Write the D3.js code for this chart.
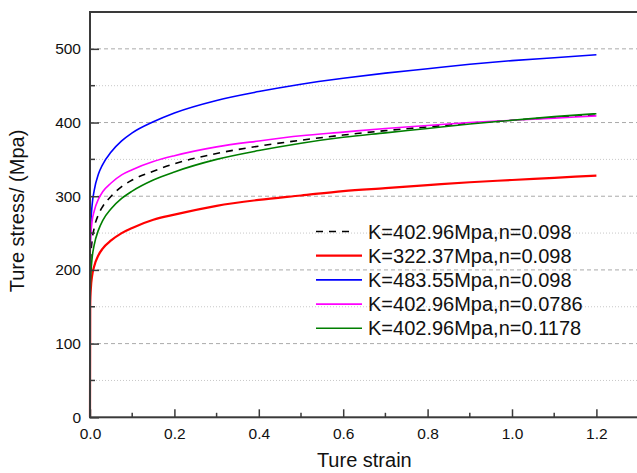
<!DOCTYPE html>
<html>
<head>
<meta charset="utf-8">
<script src="https://cdn.jsdelivr.net/npm/d3@7/dist/d3.min.js"></script>
<style>
    body { margin: 0; background: #fff; }
    svg { display: block; font-family: Arial, "Liberation Sans", sans-serif; }
</style>
</head>
<body>
<div id="chart"></div>
<script>
// strain points
const strain = [0, 0.0005, 0.001, 0.002, 0.005, 0.01, 0.02, 0.03, 0.05, 0.075, 0.1, 0.15,
    0.2, 0.3, 0.4, 0.5, 0.6, 0.7, 0.8, 0.9, 1.0, 1.1, 1.2];

// stress values of each curve, Mpa
const stressBase = [0, 191, 205, 219, 240, 257, 275, 286, 300, 313, 322, 334, 344, 358, 368, 376, 383, 389, 394, 399, 403, 407, 410];
const stressLowK = [0, 153, 164, 175, 192, 205, 220, 229, 240, 250, 257, 268, 275, 287, 295, 301, 307, 311, 315, 319, 322, 325, 328];
const stressHighK = [0, 230, 246, 263, 288, 308, 330, 343, 360, 375, 386, 401, 413, 430, 442, 452, 460, 467, 473, 479, 484, 488, 492];
const stressLowN = [0, 222, 234, 247, 266, 280, 296, 306, 318, 329, 336, 347, 355, 367, 375, 382, 387, 392, 396, 400, 403, 406, 409];
const stressHighN = [0, 164, 179, 194, 216, 234, 254, 267, 283, 297, 307, 322, 333, 350, 362, 372, 380, 386, 392, 398, 403, 408, 412];

const legendLabels = ['K=402.96Mpa,n=0.098', 'K=322.37Mpa,n=0.098', 'K=483.55Mpa,n=0.098',
    'K=402.96Mpa,n=0.0786', 'K=402.96Mpa,n=0.1178'];

const xTicks = [0, 0.2, 0.4, 0.6, 0.8, 1.0, 1.2];
const xMinorTicks = [0.1, 0.3, 0.5, 0.7, 0.9, 1.1];
const yTicks = [0, 100, 200, 300, 400, 500];
const yMinorTicks = [50, 150, 250, 350, 450];

const WIDTH = 637;
const HEIGHT = 473;
const LEFT = 90;
const TOP = 12;
const RIGHT = 638.6;   // right edge of the frame is just outside the picture
const BOTTOM = 417.3;
const AXIS_COLOR = '#3a3a3a';

const series = [
    { values: stressBase, color: '#000', width: 1.6, dash: '7,6' },
    { values: stressLowK, color: '#ff0000', width: 2.2, dash: null },
    { values: stressHighK, color: '#0000ff', width: 1.6, dash: null },
    { values: stressLowN, color: '#ff00ff', width: 1.6, dash: null },
    { values: stressHighN, color: '#007f00', width: 1.6, dash: null }
];

const svg = d3.select('#chart').append('svg')
    .attr('width', WIDTH)
    .attr('height', HEIGHT);

const x = d3.scaleLinear().domain([0, 1.3]).range([LEFT, RIGHT]);
const y = d3.scaleLinear().domain([0, 550]).range([BOTTOM, TOP]);

// grid
svg.append('g').selectAll('line').data(yMinorTicks).join('line')
    .attr('x1', LEFT).attr('x2', RIGHT)
    .attr('y1', d => y(d)).attr('y2', d => y(d))
    .attr('stroke', '#c8c8c8').attr('stroke-width', 1).attr('stroke-dasharray', '1,2');
svg.append('g').selectAll('line').data(yTicks.filter(d => d > 0)).join('line')
    .attr('x1', LEFT).attr('x2', RIGHT)
    .attr('y1', d => y(d)).attr('y2', d => y(d))
    .attr('stroke', '#aaaaaa').attr('stroke-width', 1).attr('stroke-dasharray', '4,3');

// curves
const line = d3.line()
    .x((d, i) => x(strain[i]))
    .y(d => y(d))
    .curve(d3.curveMonotoneX);

series.forEach(s => {
    svg.append('path')
        .attr('d', line(s.values))
        .attr('fill', 'none')
        .attr('stroke', s.color)
        .attr('stroke-width', s.width)
        .attr('stroke-dasharray', s.dash);
});

// axes, ticks point inward
const xAxis = d3.axisBottom(x).tickValues(xTicks).tickFormat(d3.format('.1f')).tickSizeInner(-8).tickSizeOuter(0);
const yAxis = d3.axisLeft(y).tickValues(yTicks).tickFormat(d3.format('d')).tickSizeInner(-9).tickSizeOuter(0);

const gx = svg.append('g').attr('transform', `translate(0,${BOTTOM})`).call(xAxis);
const gy = svg.append('g').attr('transform', `translate(${LEFT},0)`).call(yAxis);

[gx, gy].forEach(g => {
    g.select('.domain').remove();
    g.selectAll('.tick line').attr('stroke', AXIS_COLOR).attr('stroke-width', 1.5);
    g.selectAll('.tick text').attr('fill', '#111').attr('font-size', '15.5px')
        .attr('font-family', 'Arial, "Liberation Sans", sans-serif');
});
gx.selectAll('.tick text').attr('dy', null).attr('y', 22);
gy.selectAll('.tick text').attr('x', -9);

// minor ticks
svg.append('g').selectAll('line').data(xMinorTicks).join('line')
    .attr('x1', d => x(d)).attr('x2', d => x(d))
    .attr('y1', BOTTOM).attr('y2', BOTTOM - 4.5)
    .attr('stroke', AXIS_COLOR).attr('stroke-width', 1.5);
svg.append('g').selectAll('line').data(yMinorTicks).join('line')
    .attr('x1', LEFT).attr('x2', LEFT + 5)
    .attr('y1', d => y(d)).attr('y2', d => y(d))
    .attr('stroke', AXIS_COLOR).attr('stroke-width', 1.5);

// frame
svg.append('rect')
    .attr('x', LEFT).attr('y', TOP)
    .attr('width', RIGHT - LEFT).attr('height', BOTTOM - TOP)
    .attr('fill', 'none').attr('stroke', AXIS_COLOR).attr('stroke-width', 2);

// axis titles
svg.append('text')
    .attr('x', (LEFT + RIGHT) / 2).attr('y', 467)
    .attr('text-anchor', 'middle').attr('font-size', '20px').attr('fill', '#111')
    .text('Ture strain');
svg.append('text')
    .attr('transform', 'translate(24,211) rotate(-90)')
    .attr('text-anchor', 'middle').attr('font-size', '20px').attr('fill', '#111')
    .text('Ture stress/ (Mpa)');

// legend
const legend = svg.append('g').attr('transform', 'translate(316,231.5)');
series.forEach((s, i) => {
    const row = legend.append('g').attr('transform', `translate(0,${i * 24.2})`);
    row.append('line')
        .attr('x1', 0).attr('x2', s.dash ? 37 : 46)
        .attr('y1', 0).attr('y2', 0)
        .attr('stroke', s.color)
        .attr('stroke-width', s.width)
        .attr('stroke-dasharray', s.dash);
    row.append('text')
        .attr('x', 52).attr('y', 7)
        .attr('font-size', '20px').attr('fill', '#111')
        .text(legendLabels[i]);
});
</script>
</body>
</html>
